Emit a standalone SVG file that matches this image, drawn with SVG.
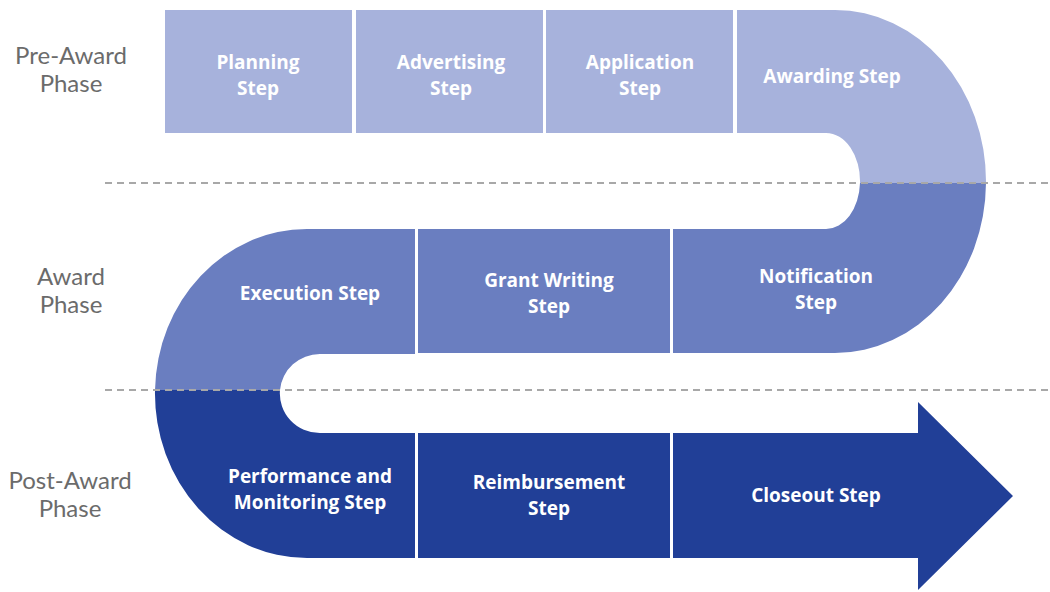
<svg xmlns="http://www.w3.org/2000/svg" width="1050" height="592" viewBox="0 0 1050 592">
  <style>
    .pre { fill: #a7b2dc; }
    .award { fill: #6a7ec0; }
    .post { fill: #213f97; }
    .step { font-family: "Open Sans", Lato, "Liberation Sans", sans-serif; font-weight: 700; font-size: 19px; fill: #ffffff; text-anchor: middle; }
    .phase { font-family: Lato, "Open Sans", "Liberation Sans", sans-serif; font-size: 24px; fill: #6b6b6b; text-anchor: middle; }
    .divider { stroke: #a8a8a8; stroke-width: 2; stroke-dasharray: 7 5; fill: none; }
  </style>
  <rect width="1050" height="592" fill="#ffffff"/>

  <!-- phase labels -->
  <g id="label-pre-award">
    <text class="phase" x="71" y="64">Pre-Award</text>
    <text class="phase" x="71" y="92">Phase</text>
  </g>
  <g id="label-award">
    <text class="phase" x="71" y="285">Award</text>
    <text class="phase" x="71" y="313">Phase</text>
  </g>
  <g id="label-post-award">
    <text class="phase" x="70" y="489">Post-Award</text>
    <text class="phase" x="70" y="517">Phase</text>
  </g>

  <!-- pre-award row -->
  <g id="planning">
    <rect class="pre" x="165" y="10" width="187" height="123"/>
    <text class="step" x="258" y="69">Planning</text>
    <text class="step" x="258" y="95">Step</text>
  </g>
  <g id="advertising">
    <rect class="pre" x="356" y="10" width="187" height="123"/>
    <text class="step" x="451" y="69">Advertising</text>
    <text class="step" x="451" y="95">Step</text>
  </g>
  <g id="application">
    <rect class="pre" x="546" y="10" width="187" height="123"/>
    <text class="step" x="640" y="69">Application</text>
    <text class="step" x="640" y="95">Step</text>
  </g>
  <g id="awarding">
    <path class="pre" d="M737,10 H835 A151,171.5 0 0 1 986,183 H860 A34,48 0 0 0 826,133 H737 Z"/>
    <text class="step" x="832" y="83">Awarding Step</text>
  </g>

  <!-- award row -->
  <g id="notification">
    <path class="award" d="M673,229 H826 A34,48 0 0 0 860,183 H986 A151,171.5 0 0 1 835,353 H673 Z"/>
    <text class="step" x="816" y="283">Notification</text>
    <text class="step" x="816" y="309">Step</text>
  </g>
  <g id="grant-writing">
    <rect class="award" x="418" y="229" width="252" height="124"/>
    <text class="step" x="549" y="287">Grant Writing</text>
    <text class="step" x="549" y="313">Step</text>
  </g>
  <g id="execution">
    <path class="award" d="M415,229 H307 A152,164.5 0 0 0 155,390 H280 A40,39.5 0 0 1 320,354 H415 Z"/>
    <text class="step" x="310" y="300">Execution Step</text>
  </g>

  <!-- post-award row -->
  <g id="performance-monitoring">
    <path class="post" d="M415,433 H320 A40,39.5 0 0 1 280,390 H155 A152,164.5 0 0 0 307,558 H415 Z"/>
    <text class="step" x="310" y="483">Performance and</text>
    <text class="step" x="310" y="509">Monitoring Step</text>
  </g>
  <g id="reimbursement">
    <rect class="post" x="418" y="433" width="252" height="125"/>
    <text class="step" x="549" y="489">Reimbursement</text>
    <text class="step" x="549" y="515">Step</text>
  </g>
  <g id="closeout">
    <path class="post" d="M673,433 H918 V402 L1013,496 L918,590 V558 H673 Z"/>
    <text class="step" x="816" y="502">Closeout Step</text>
  </g>

  <!-- phase dividers -->
  <g id="dividers">
    <line class="divider" x1="105" y1="183" x2="1050" y2="183"/>
    <line class="divider" x1="105" y1="390" x2="1050" y2="390"/>
  </g>
</svg>
